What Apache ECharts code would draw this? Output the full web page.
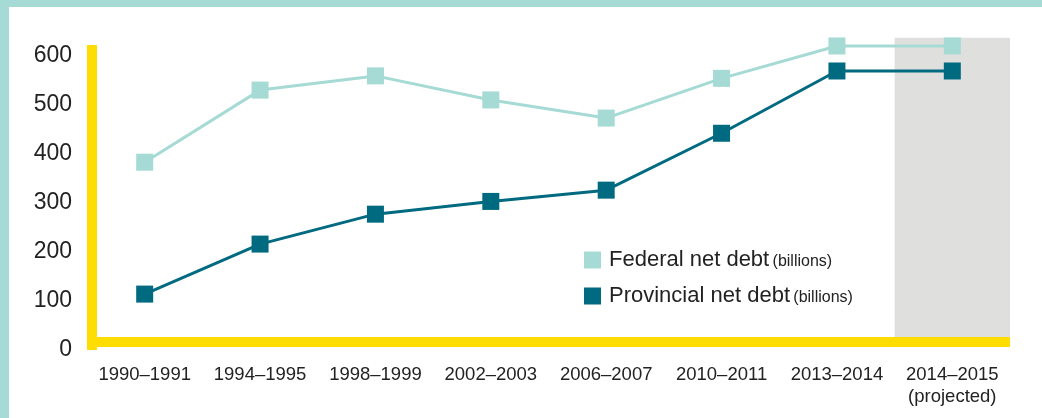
<!DOCTYPE html>
<html>
<head>
<meta charset="utf-8">
<script src="https://cdn.jsdelivr.net/npm/echarts@6/dist/echarts.min.js"></script>
<style>
  html, body { margin: 0; padding: 0; background: #fff; }
  #wrap { position: relative; width: 1042px; height: 418px; overflow: hidden; }
  #bandTop { position: absolute; left: 0; top: 0; width: 1042px; height: 7px; background: #a5dad5; }
  #bandLeft { position: absolute; left: 0; top: 0; width: 9px; height: 418px; background: #a5dad5; }
  #chart { position: absolute; left: 0; top: 0; width: 1042px; height: 418px; }
</style>
</head>
<body>
<div id="wrap">
  <div id="bandTop"></div>
  <div id="bandLeft"></div>
  <div id="chart"></div>
</div>
<script>
// ---- data ----
const categories = ['1990–1991', '1994–1995', '1998–1999', '2002–2003', '2006–2007', '2010–2011', '2013–2014', '2014–2015\n(projected)'];
const federalDebt = [383, 530, 559, 510, 473, 554, 620, 620];
const provincialDebt = [114, 216, 277, 303, 326, 442, 569, 569];
const projectedShadeTop = [null, null, null, null, null, null, null, 631];
const projectedShadeBase = [null, null, null, null, null, null, null, 6];
const yTicks = [0, 100, 200, 300, 400, 500, 600];

const federalColor = '#a5dad5';
const provincialColor = '#006a80';
const yellow = '#ffdd00';
const textColor = '#222222';
const fontFamily = '"Liberation Sans", Arial, Helvetica, sans-serif';

const chart = echarts.init(document.getElementById('chart'), null, { renderer: 'canvas' });

chart.setOption({
  backgroundColor: 'transparent',
  animation: false,
  grid: { left: 87, right: 32, top: 45, bottom: 68, containLabel: false },
  legend: {
    data: ['Federal net debt', 'Provincial net debt'],
    orient: 'vertical',
    left: 584,
    top: 249,
    padding: 0,
    itemWidth: 17,
    itemHeight: 17,
    itemGap: 14,
    icon: 'rect',
    formatter: function (name) { return '{a|' + name + '} {b|(billions)}'; },
    textStyle: {
      color: textColor,
      fontFamily: fontFamily,
      padding: [0, 0, 0, 3],
      rich: {
        a: { fontSize: 22, fontFamily: fontFamily, color: textColor, lineHeight: 24 },
        b: { fontSize: 16, fontFamily: fontFamily, color: textColor, lineHeight: 24, padding: [3, 0, 0, 0] }
      }
    }
  },
  xAxis: {
    type: 'category',
    data: categories,
    boundaryGap: true,
    offset: -8,
    z: 5,
    axisLine: { show: true, lineStyle: { color: yellow, width: 10, cap: 'butt' } },
    axisTick: { show: false },
    axisLabel: {
      color: textColor,
      fontFamily: fontFamily,
      fontSize: 18.5,
      lineHeight: 22,
      margin: 22,
      interval: 0
    },
    splitLine: { show: false }
  },
  yAxis: {
    type: 'value',
    min: 0,
    max: 622,
    interval: 100,
    offset: -5,
    z: 5,
    axisLine: { show: true, lineStyle: { color: yellow, width: 10, cap: 'butt' } },
    axisTick: { show: false },
    splitLine: { show: false },
    axisLabel: {
      color: textColor,
      fontFamily: fontFamily,
      fontSize: 23,
      margin: 20,
      showMaxLabel: false,
      formatter: function (v) { return yTicks.indexOf(v) >= 0 ? String(v) : ''; }
    }
  },
  series: [
    {
      name: 'shadeBase',
      type: 'bar',
      stack: 'shade',
      data: projectedShadeBase,
      barWidth: '100%',
      silent: true,
      clip: false,
      z: 1,
      itemStyle: { color: 'rgba(0,0,0,0)' },
      legendHoverLink: false
    },
    {
      name: 'projected',
      type: 'bar',
      stack: 'shade',
      data: projectedShadeTop,
      barWidth: '100%',
      silent: true,
      clip: false,
      z: 1,
      itemStyle: { color: '#dfe0de' },
      legendHoverLink: false
    },
    {
      name: 'Federal net debt',
      type: 'line',
      data: federalDebt,
      symbol: 'rect',
      symbolSize: 17,
      z: 3,
      lineStyle: { color: federalColor, width: 3 },
      itemStyle: { color: federalColor }
    },
    {
      name: 'Provincial net debt',
      type: 'line',
      data: provincialDebt,
      symbol: 'rect',
      symbolSize: 17,
      z: 4,
      lineStyle: { color: provincialColor, width: 3 },
      itemStyle: { color: provincialColor }
    }
  ]
});
</script>
</body>
</html>
